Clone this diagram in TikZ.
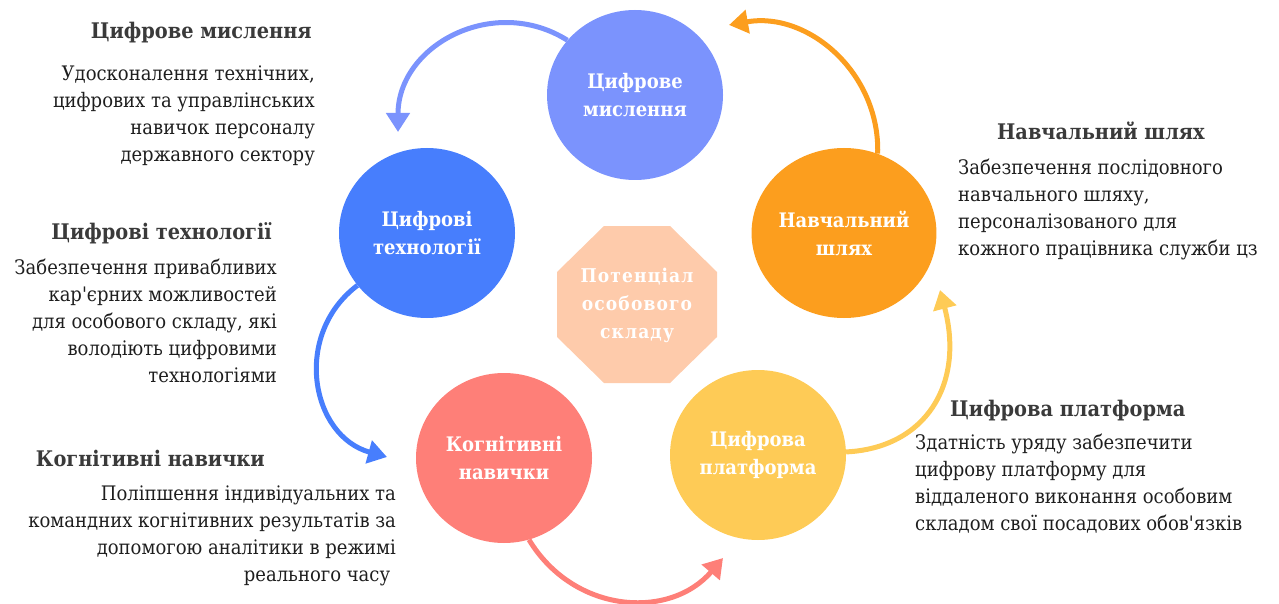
\documentclass[tikz,border=0pt]{standalone}
\usepackage{fontspec}
\setmainfont{DejaVu Serif Condensed}
\usetikzlibrary{shapes.geometric,arrows.meta}
\definecolor{cThink}{HTML}{7B93FD}
\definecolor{cTech}{HTML}{477EFD}
\definecolor{cPath}{HTML}{FC9E1E}
\definecolor{cCog}{HTML}{FE7F78}
\definecolor{cPlat}{HTML}{FECB56}
\definecolor{cOct}{HTML}{FECBAB}
\definecolor{headgray}{HTML}{3A3A3A}
\definecolor{bodygray}{HTML}{1E1E1E}
\begin{document}
\begin{tikzpicture}[x=1pt,y=-1pt,
  bubble/.style={ellipse, minimum width=176pt, minimum height=170pt, inner sep=0pt,
    text=white, font=\bfseries\fontsize{20}{28}\selectfont, align=center},
  flow/.style={line width=5pt, -{Triangle[length=19pt,width=23pt]}},
  head/.style={font=\bfseries\fontsize{21.5}{27}\selectfont, text=headgray, inner sep=0pt},
  body/.style={font=\fontsize{20}{27}\selectfont, text=bodygray, inner sep=0pt},
]
\useasboundingbox (0,0) rectangle (1279,604);

% five stages around the centre
\node[bubble, fill=cThink] (think) at (635,95)  {Цифрове\\мислення};
\node[bubble, fill=cTech]  (tech)  at (427,233) {Цифрові\\технології};
\node[bubble, fill=cPath]  (learn) at (844,233) {Навчальний\\шлях};
\node[bubble, fill=cCog]   (cog)   at (504,458) {Когнітивні\\навички};
\node[bubble, fill=cPlat]  (plat)  at (758,455) {Цифрова\\платформа};

% central octagon
\fill[cOct] (604,226) -- (670,226) -- (717,272) -- (717,337) -- (670,383)
  -- (604,383) -- (557,337) -- (557,272) -- cycle;
\node[text=white, font=\bfseries\fontsize{19}{28}\selectfont\addfontfeature{LetterSpace=6},
  align=center, inner sep=0pt] (pot) at (637,305) {Потенціал\\особового\\складу};

% arrow ends
\coordinate (e1) at (398,132);
\coordinate (e2) at (729,25);
\coordinate (e3) at (387,457);
\coordinate (e4) at (723,558);
\coordinate (e5) at (940,290);

% cycle arrows
\draw[flow, cThink] (think.141) .. controls (494,-6) and (398,45) .. (e1);
\draw[flow, cPath]  (learn.67) .. controls (880,73) and (808,11) .. (e2);
\draw[flow, cTech]  (tech.217) .. controls (292,335) and (311,436) .. (e3);
\draw[flow, cCog]   (cog.287) .. controls (574,614) and (670,620) .. (e4);
\draw[flow, cPlat]  (plat.2) .. controls (925,448) and (965,385) .. (e5);

% descriptions
\node[head, anchor=north east] (h1) at (312,22) {Цифрове мислення};
\node[body, anchor=north east, align=right] (d1) at (315,66)
  {Удосконалення технічних,\\цифрових та управлінських\\навичок персоналу\\державного сектору\ };

\node[head, anchor=north east] (h2) at (272,222) {Цифрові технології};
\node[body, anchor=north east, align=right] (d2) at (277,259)
  {Забезпечення привабливих\\кар\textquotesingle єрних можливостей\\для особового складу, які\\володіють цифровими\\технологіями};

\node[head, anchor=north east] (h3) at (265,450) {Когнітивні навички};
\node[body, anchor=north east, align=right] (d3) at (396,486)
  {Поліпшення індивідуальних та\\командних когнітивних результатів за\\допомогою аналітики в режимі\\реального часу\ \ };

\node[head, anchor=north west] (h4) at (997,122) {Навчальний шлях};
\node[body, anchor=north west, align=left] (d4) at (958,159)
  {Забезпечення послідовного\\навчального шляху,\\персоналізованого для\\кожного працівника служби цз};

\node[head, anchor=north west] (h5) at (950,400) {Цифрова платформа};
\node[body, anchor=north west, align=left] (d5) at (915,434)
  {Здатність уряду забезпечити\\цифрову платформу для\\віддаленого виконання особовим\\складом свої посадових обов\textquotesingle язків};
\end{tikzpicture}
\end{document}
